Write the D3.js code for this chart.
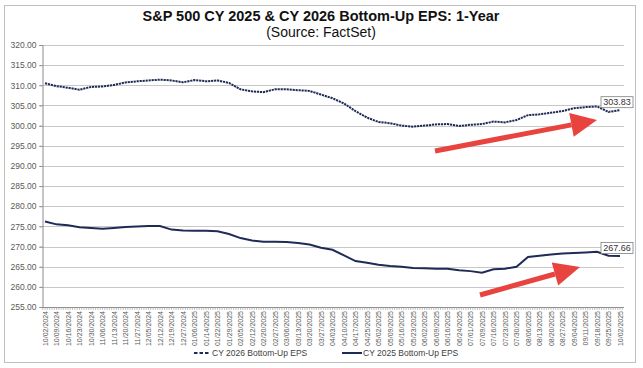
<!DOCTYPE html>
<html><head><meta charset="utf-8">
<script src="https://cdn.jsdelivr.net/npm/d3@7"></script>
<style>
body{margin:0;background:#fff}
svg{display:block}
text{font-family:"Liberation Sans",Arial,Helvetica,sans-serif}
</style>
</head><body>
<svg id="c" width="643" height="368"></svg>
<script>
const dates = ["10/02/2024","10/09/2024","10/16/2024","10/23/2024","10/30/2024","11/06/2024","11/13/2024","11/20/2024","11/27/2024","12/05/2024","12/12/2024","12/19/2024","12/27/2024","01/06/2025","01/14/2025","01/22/2025","01/29/2025","02/05/2025","02/12/2025","02/20/2025","02/27/2025","03/06/2025","03/13/2025","03/20/2025","03/27/2025","04/03/2025","04/10/2025","04/17/2025","04/25/2025","05/02/2025","05/09/2025","05/16/2025","05/23/2025","06/02/2025","06/09/2025","06/16/2025","06/24/2025","07/01/2025","07/09/2025","07/16/2025","07/23/2025","07/30/2025","08/06/2025","08/13/2025","08/20/2025","08/27/2025","09/04/2025","09/11/2025","09/18/2025","09/25/2025","10/02/2025"];
const cy2026 = [310.5,309.8,309.4,308.9,309.6,309.7,310.1,310.7,311.0,311.2,311.4,311.2,310.75,311.3,311.0,311.2,310.6,309.0,308.5,308.3,309.0,309.0,308.8,308.6,307.7,306.8,305.5,303.6,302.0,300.9,300.6,300.0,299.75,300.0,300.3,300.4,299.9,300.2,300.4,301.0,300.8,301.4,302.6,302.8,303.2,303.6,304.3,304.6,304.75,303.4,303.83];
const cy2025 = [276.2,275.5,275.3,274.8,274.6,274.4,274.6,274.85,275.0,275.1,275.1,274.2,274.0,273.9,273.9,273.8,273.1,272.1,271.5,271.2,271.2,271.1,270.9,270.5,269.7,269.2,267.8,266.4,266.0,265.5,265.2,265.0,264.7,264.6,264.5,264.5,264.1,263.9,263.5,264.35,264.5,265.0,267.4,267.7,268.0,268.3,268.4,268.55,268.7,267.7,267.66];
const yTicks = [255,260,265,270,275,280,285,290,295,300,305,310,315,320];
const seriesNames = ["CY 2026 Bottom-Up EPS","CY 2025 Bottom-Up EPS"];
const lastLabels = ["303.83","267.66"];

const svg = d3.select("#c");
const navy = "#1f2b57";
const L = 42, R = 624, T = 45, B = 307;

// chart border
svg.append("rect").attr("x",4.5).attr("y",5.5).attr("width",631).attr("height",357)
  .attr("fill","#fff").attr("stroke","#bfbfbf").attr("stroke-width",1);

// title
svg.append("text").attr("x",321).attr("y",21).attr("text-anchor","middle")
  .attr("font-size",14.5).attr("font-weight","bold").attr("fill","#111")
  .text("S&P 500 CY 2025 & CY 2026 Bottom-Up EPS: 1-Year");
svg.append("text").attr("x",321).attr("y",37).attr("text-anchor","middle")
  .attr("font-size",14).attr("fill","#111").text("(Source: FactSet)");

const y = d3.scaleLinear().domain([255,320]).range([B,T]);
const x = d3.scalePoint().domain(dates).range([45,620]);
const day = d3.scaleLinear().domain([0,250]).range([45,620]);

// gridlines
svg.append("g").selectAll("line").data(yTicks.filter(v=>v>255)).join("line")
  .attr("x1",L-3).attr("x2",R).attr("y1",d=>Math.round(y(d))+0.5).attr("y2",d=>Math.round(y(d))+0.5)
  .attr("stroke","#c8c8c8").attr("stroke-width",1);

// y axis
const yAxis = d3.axisLeft(y).tickValues(yTicks).tickFormat(d3.format(".2f")).tickSize(3).tickPadding(3);
const gy = svg.append("g").attr("transform",`translate(${L+0.5},0)`).call(yAxis);
gy.select(".domain").attr("stroke","#8c8c8c");
gy.selectAll(".tick line").attr("stroke","#8c8c8c");
gy.selectAll("text").attr("font-size",8.5).attr("fill","#595959").attr("font-family","Liberation Sans, Arial, sans-serif");

// x axis baseline + minor day ticks
svg.append("line").attr("x1",L).attr("x2",R).attr("y1",B+0.5).attr("y2",B+0.5).attr("stroke","#8c8c8c");
svg.append("g").selectAll("line").data(d3.range(-1,252)).join("line")
  .attr("x1",d=>day(d)).attr("x2",d=>day(d)).attr("y1",B).attr("y2",B+3)
  .attr("stroke","#9a9a9a").attr("stroke-width",0.6);

// x labels
const xAxis = d3.axisBottom(x).tickSize(0).tickPadding(0);
const gx = svg.append("g").attr("transform",`translate(0,${B})`).call(xAxis);
gx.select(".domain").remove();
gx.selectAll("text").attr("font-size",7).attr("fill","#595959")
  .attr("font-family","Liberation Sans, Arial, sans-serif")
  .attr("transform","rotate(-90)").attr("text-anchor","end")
  .attr("x",-4).attr("y",0).attr("dy","0.35em");

// lines
const line = d3.line().x((d,i)=>x(dates[i])).y(d=>y(d));
svg.append("path").datum(cy2026).attr("d",line).attr("fill","none")
  .attr("stroke",navy).attr("stroke-width",2).attr("stroke-dasharray","2.2,0.8");
svg.append("path").datum(cy2025).attr("d",line).attr("fill","none")
  .attr("stroke",navy).attr("stroke-width",2);

// end labels
[[cy2026,lastLabels[0]],[cy2025,lastLabels[1]]].forEach(([s,lab])=>{
  const cx = x(dates[dates.length-1]) - 4, cy = y(s[s.length-1]) - 8;
  const g = svg.append("g");
  g.append("rect").attr("x",cx-15).attr("y",cy-5.5).attr("width",32).attr("height",11)
    .attr("fill","#fff").attr("stroke","#7f7f7f").attr("stroke-width",0.8);
  g.append("text").attr("x",cx+1).attr("y",cy+3.3).attr("text-anchor","middle")
    .attr("font-size",9).attr("fill","#333").text(lab);
});

// red arrows
const red = "#e8433f";
function arrow(x1,y1,x2,y2){
  const ang = Math.atan2(y2-y1,x2-x1), hl = 26, hw = 12;
  const bx = x2 - hl*Math.cos(ang), by = y2 - hl*Math.sin(ang);
  svg.append("line").attr("x1",x1).attr("y1",y1).attr("x2",bx).attr("y2",by)
    .attr("stroke",red).attr("stroke-width",5);
  const px = -Math.sin(ang), py = Math.cos(ang);
  svg.append("path").attr("d",`M${x2},${y2}L${bx+px*hw},${by+py*hw}L${bx-px*hw},${by-py*hw}Z`).attr("fill",red);
}
arrow(435,151,597,120);
arrow(480,295,580,267);

// legend
const ly = 353;
svg.append("line").attr("x1",194).attr("x2",209).attr("y1",ly).attr("y2",ly)
  .attr("stroke",navy).attr("stroke-width",2).attr("stroke-dasharray","3.5,2");
svg.append("text").attr("x",212).attr("y",ly+3).attr("font-size",8.5).attr("fill","#404040").text(seriesNames[0]);
svg.append("line").attr("x1",342).attr("x2",362).attr("y1",ly).attr("y2",ly)
  .attr("stroke",navy).attr("stroke-width",2);
svg.append("text").attr("x",363).attr("y",ly+3).attr("font-size",8.5).attr("fill","#404040").text(seriesNames[1]);
</script>
</body></html>
